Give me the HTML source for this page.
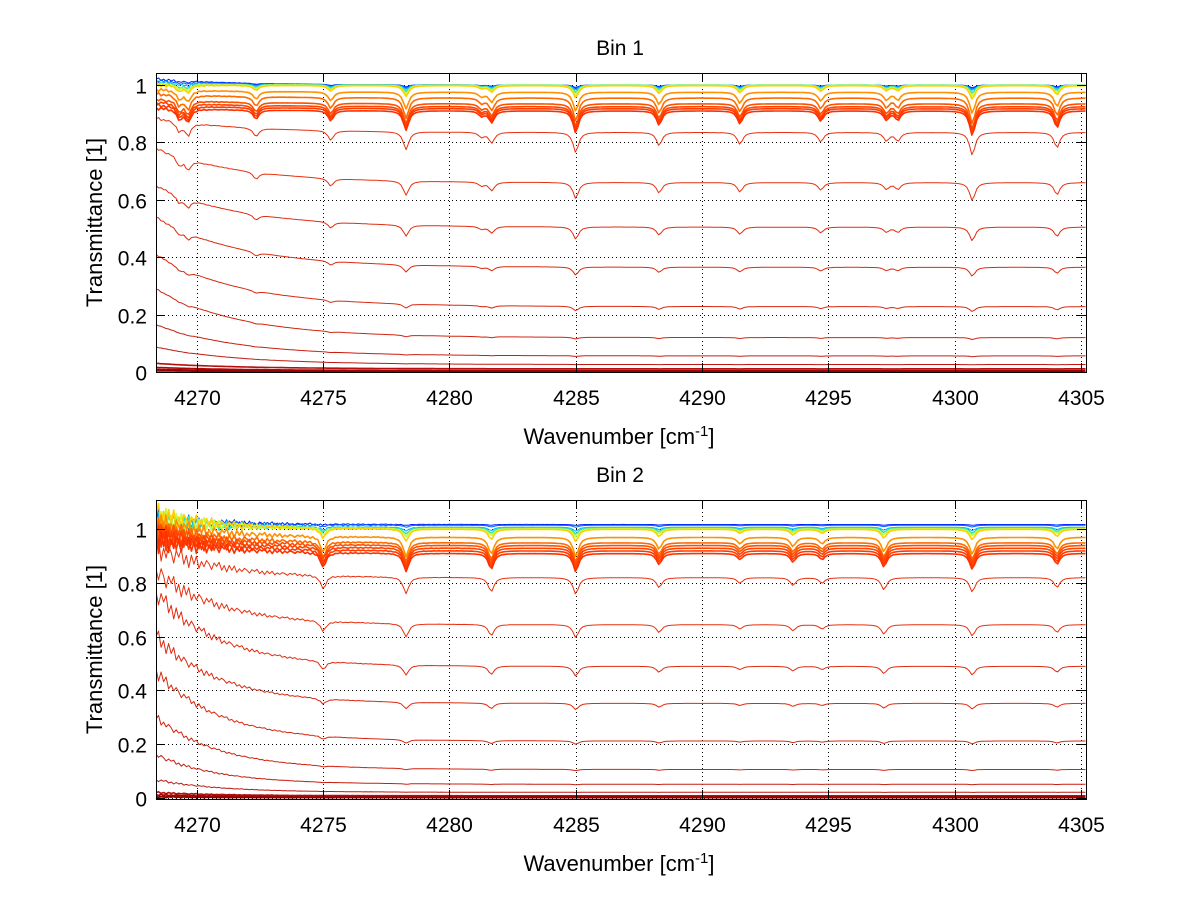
<!DOCTYPE html>
<html><head><meta charset="utf-8"><title>Transmittance spectra</title>
<style>
html,body{margin:0;padding:0;background:#fff;}
svg{display:block;font-family:"Liberation Sans",sans-serif;}
</style></head>
<body>
<svg id="chart" width="1200" height="901" viewBox="0 0 1200 901" xmlns="http://www.w3.org/2000/svg"></svg>
<script>
// ---------- data ----------
const xTicks = [4270, 4275, 4280, 4285, 4290, 4295, 4300, 4305];
const yTicks = [0, 0.2, 0.4, 0.6, 0.8, 1];
const yTickLabels = ["0", "0.2", "0.4", "0.6", "0.8", "1"];

// absorption line centers [cm-1] and fractional depths
const bin1LineCenters = [4269.3, 4269.65, 4272.34, 4275.3, 4278.28, 4281.27, 4281.67, 4285.0, 4288.3, 4291.5, 4294.7, 4297.3, 4297.75, 4300.7, 4304.05];
const bin1LineDepths  = [0.04, 0.05, 0.035, 0.04, 0.075, 0.02, 0.045, 0.085, 0.055, 0.05, 0.04, 0.035, 0.035, 0.095, 0.065];
const bin2LineCenters = [4275.0, 4278.28, 4281.65, 4285.0, 4288.3, 4291.5, 4293.6, 4294.75, 4297.2, 4300.7, 4304.05];
const bin2LineDepths  = [0.06, 0.075, 0.065, 0.075, 0.045, 0.025, 0.035, 0.025, 0.055, 0.065, 0.045];

// series levels at the left edge (4268.4) and in the flat region
const bin1Left  = [1.02, 1.015, 1.01, 1.005, 1.003, 1.0, 0.985, 0.97, 0.95, 0.94, 0.93, 0.92, 0.885, 0.78, 0.65, 0.54, 0.41, 0.29, 0.165, 0.087, 0.03, 0.016, 0.009, 0.004];
const bin1Right = [1.0, 1.0, 1.0, 1.0, 0.999, 0.998, 0.975, 0.955, 0.935, 0.925, 0.918, 0.91, 0.835, 0.66, 0.505, 0.365, 0.228, 0.12, 0.056, 0.026, 0.011, 0.005, 0.003, 0.001];
const bin1DepthScale = [0.1, 0.15, 0.2, 0.3, 0.4, 0.5, 0.8, 1, 1, 1, 1, 1, 1, 1, 1, 0.9, 0.8, 0.6, 0.5, 0.3, 0.2, 0.1, 0.1, 0.1];

const bin2Left  = [1.03, 1.03, 1.02, 1.03, 1.04, 1.05, 1.02, 1.0, 0.99, 0.98, 0.97, 0.96, 0.93, 0.84, 0.76, 0.6, 0.47, 0.3, 0.16, 0.067, 0.02, 0.012, 0.007, 0.003];
const bin2Right = [1.018, 1.015, 1.008, 1.005, 1.002, 1.0, 0.97, 0.95, 0.94, 0.93, 0.92, 0.91, 0.82, 0.645, 0.49, 0.352, 0.212, 0.106, 0.051, 0.021, 0.008, 0.005, 0.003, 0.001];
const bin2DepthScale = [0.05, 0.1, 0.2, 0.3, 0.4, 0.6, 1, 1, 1, 1, 1, 1, 1, 1, 1, 0.9, 0.8, 0.6, 0.5, 0.3, 0.2, 0.1, 0.1, 0.1];

// ripple pattern (relative) seen at the low-wavenumber end
const ripplePattern = [0.0, 1.0, -0.7, 0.5, -1.0, 0.8, -0.4, 0.9, -0.9, 0.3, -0.5, 0.7, 0.2, -0.8, 0.6];

// ---------- styles ----------
const seriesColors = ["#0020ff","#0060ff","#00b0ff","#40e0b0","#c0ff40","#ffd000","#ff9000","#ff6a00","#ff5000","#ff4400","#ff3c00","#ff3000","#e8300e","#e8300e","#e02c10","#dc2a10","#d82810","#d02410","#c81e10","#c01810","#b41010","#aa0808","#a00404","#960000"];

const svg = document.getElementById('chart');
const NS = 'http://www.w3.org/2000/svg';
function mk(tag, attrs) {
  const e = document.createElementNS(NS, tag);
  for (const k in attrs) e.setAttribute(k, attrs[k]);
  return e;
}

function drawPlot(p) {
  const g = mk('g', {});
  
  
  svg.appendChild(g);
  const xs = v => p.x0 + (v - p.xmin) / (p.xmax - p.xmin) * (p.x1 - p.x0);
  const ys = v => p.y1 - (v - p.ymin) / (p.ymax - p.ymin) * (p.y1 - p.y0);

  const grid = mk('g', {stroke: '#000', 'stroke-width': 1, 'stroke-dasharray': '1,3'});
  
  
  g.appendChild(grid);
  xTicks.forEach(t => { const X = Math.round(xs(t)) + 0.5; grid.appendChild(mk('line', {x1: X, x2: X, y1: p.y0, y2: p.y1})); });
  yTicks.forEach(t => { const Y = Math.round(ys(t)) + 0.5; grid.appendChild(mk('line', {x1: p.x0, x2: p.x1, y1: Y, y2: Y})); });

  const clipId = 'clip-' + p.name;
  const cp = mk('clipPath', {id: clipId});
  cp.appendChild(mk('rect', {x: p.x0, y: p.y0, width: p.x1 - p.x0, height: p.y1 - p.y0}));
  svg.appendChild(cp);
  const sg = mk('g', {'clip-path': 'url(#' + clipId + ')', fill: 'none', 'stroke-linejoin': 'round'});
  
  
  g.appendChild(sg);
  const step = 0.1;
  const n = Math.round((p.xmax - p.xmin) / step);
  for (let s = 0; s < p.left.length; s++) {
    const L = p.left[s], R = p.right[s], sc = p.scale[s];
    let pts = [];
    for (let i = 0; i <= n; i++) {
      const x = p.xmin + i * step;
      const d = x - p.xmin;
      let base = R + (L - R) * Math.exp(-d / p.tau);
      let absorb = 0;
      for (let k = 0; k < p.centers.length; k++) {
        const u = (x - p.centers[k]) / 0.13;
        absorb += p.depths[k] / (1 + u * u);
      }
      let v = base * (1 - sc * absorb);
      const rip = ripplePattern[(i + s * 3) % ripplePattern.length];
      v += rip * p.rippleAmp * Math.min(1, base + 0.05) * Math.exp(-d / p.rippleTau);
      pts.push(xs(x).toFixed(1) + ',' + ys(v).toFixed(1));
    }
    const pl = mk('polyline', {points: pts.join(' '), stroke: seriesColors[s], 'stroke-width': (s >= 20 || (s >= 3 && s <= 11)) ? 1.6 : 1});
    
    
    sg.appendChild(pl);
  }

  const box = mk('rect', {x: p.x0 + 0.5, y: p.y0 + 0.5, width: p.x1 - p.x0, height: p.y1 - p.y0, fill: 'none', stroke: '#000', 'stroke-width': 1});
  
  
  g.appendChild(box);

  const tk = mk('g', {stroke: '#000', 'stroke-width': 1});
  
  
  g.appendChild(tk);
  xTicks.forEach(t => {
    const X = Math.round(xs(t)) + 0.5;
    tk.appendChild(mk('line', {x1: X, x2: X, y1: p.y1, y2: p.y1 - 9}));
    tk.appendChild(mk('line', {x1: X, x2: X, y1: p.y0, y2: p.y0 + 9}));
    const tx = mk('text', {x: X, y: p.y1 + 33, 'text-anchor': 'middle', 'font-size': 21, fill: '#000'});
    
    
    tx.textContent = String(t);
    g.appendChild(tx);
  });
  yTicks.forEach((t, i) => {
    const Y = Math.round(ys(t)) + 0.5;
    tk.appendChild(mk('line', {x1: p.x0, x2: p.x0 + 9, y1: Y, y2: Y}));
    tk.appendChild(mk('line', {x1: p.x1, x2: p.x1 - 9, y1: Y, y2: Y}));
    const tx = mk('text', {x: p.x0 - 9, y: Y + 8, 'text-anchor': 'end', 'font-size': 21, fill: '#000'});
    
    
    tx.textContent = yTickLabels[i];
    g.appendChild(tx);
  });

  const ti = mk('text', {x: 620, y: p.y0 - 18, 'text-anchor': 'middle', 'font-size': 21, fill: '#000'});
  
  
  ti.textContent = p.title;
  g.appendChild(ti);

  const xl = mk('text', {x: 619, y: p.y1 + 72, 'text-anchor': 'middle', 'font-size': 22, fill: '#000'});
  
  
  xl.appendChild(document.createTextNode('Wavenumber [cm'));
  const sup = mk('tspan', {dy: -8, 'font-size': 15});
  sup.textContent = '-1';
  xl.appendChild(sup);
  const cl = mk('tspan', {dy: 8});
  cl.textContent = ']';
  xl.appendChild(cl);
  g.appendChild(xl);

  const yc = (p.y0 + p.y1) / 2;
  const yl = mk('text', {x: 0, y: 0, 'text-anchor': 'middle', 'font-size': 22, fill: '#000', transform: 'translate(102,' + yc + ') rotate(-90)'});
  
  
  yl.textContent = 'Transmittance [1]';
  g.appendChild(yl);
}

drawPlot({name: 'bin-1-plot', title: 'Bin 1', x0: 156, x1: 1086, y0: 73, y1: 372,
  xmin: 4268.38, xmax: 4305.2, ymin: 0, ymax: 1.0418,
  left: bin1Left, right: bin1Right, scale: bin1DepthScale, centers: bin1LineCenters, depths: bin1LineDepths,
  tau: 3.3, rippleAmp: 0.006, rippleTau: 1.5});

drawPlot({name: 'bin-2-plot', title: 'Bin 2', x0: 156, x1: 1086, y0: 500, y1: 799,
  xmin: 4268.38, xmax: 4305.2, ymin: -0.004, ymax: 1.109,
  left: bin2Left, right: bin2Right, scale: bin2DepthScale, centers: bin2LineCenters, depths: bin2LineDepths,
  tau: 2.5, rippleAmp: 0.05, rippleTau: 2.5});
</script>
</body></html>
